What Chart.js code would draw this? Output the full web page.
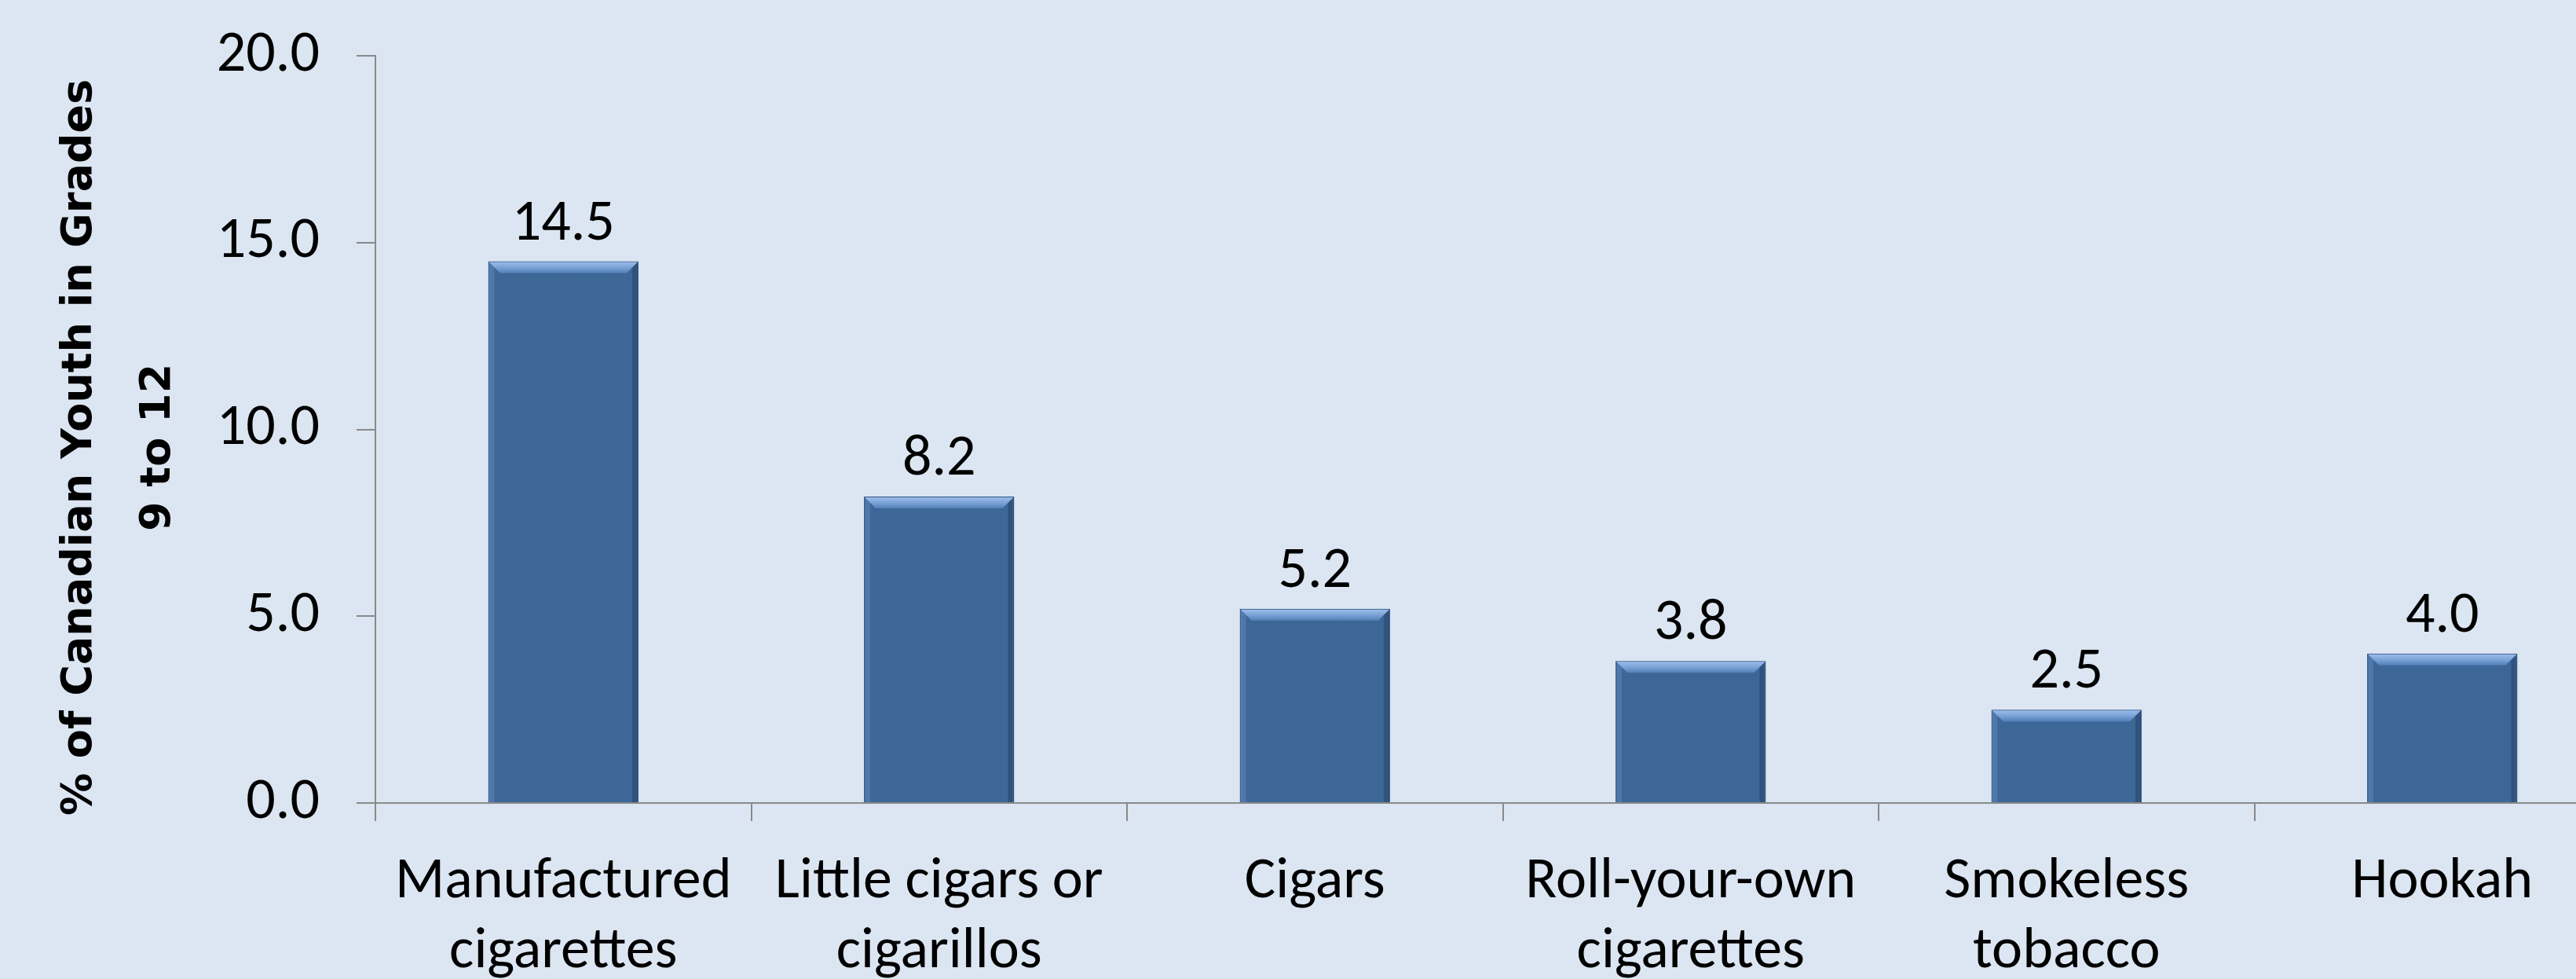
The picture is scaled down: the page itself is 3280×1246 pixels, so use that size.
<!DOCTYPE html>
<html>
<head>
<meta charset="utf-8">
<script src="https://cdn.jsdelivr.net/npm/chart.js@4.4.1/dist/chart.umd.min.js"></script>
<style>
    html, body { margin: 0; padding: 0; background: #dce6f2; overflow: hidden; }
    #wrap { width: 3349px; height: 1262px; }
</style>
</head>
<body>
<div id="wrap"><canvas id="chart" width="3349" height="1262"></canvas></div>
<script>
// Data
const categories = [
    ['Manufactured', 'cigarettes'],
    ['Little cigars or', 'cigarillos'],
    'Cigars',
    ['Roll-your-own', 'cigarettes'],
    ['Smokeless', 'tobacco'],
    'Hookah'
];
const percentUse = [14.5, 8.2, 5.2, 3.8, 2.5, 4.0];
const yTicks = [0, 5, 10, 15, 20];
// trailing spaces nudge the rotated title a little downward, as in the original
const yTitle = ['% of Canadian Youth in Grades \u2002', '9 to 12 \u2002'];

const bodyFont = "Carlito, 'Liberation Sans Narrow', Lato, sans-serif";
const axisGray = '#898989';

// Value labels above each bar
const valueLabels = {
    id: 'valueLabels',
    afterDatasetsDraw(chart) {
        const ctx = chart.ctx;
        const meta = chart.getDatasetMeta(0);
        ctx.save();
        ctx.font = '74px ' + bodyFont;
        ctx.fillStyle = '#000';
        ctx.textAlign = 'center';
        ctx.textBaseline = 'alphabetic';
        meta.data.forEach((bar, i) => {
            ctx.fillText(percentUse[i].toFixed(1), bar.x, bar.y - 28);
        });
        ctx.restore();
    }
};

// Office style bevel on the bar tops
const bevel = {
    id: 'bevel',
    afterDatasetsDraw(chart) {
        const ctx = chart.ctx;
        const meta = chart.getDatasetMeta(0);
        const b = 14;
        ctx.save();
        meta.data.forEach(bar => {
            const l = bar.x - bar.width / 2 + 1, r = bar.x + bar.width / 2 - 1;
            const t = bar.y + 1, bot = bar.base;
            // sides
            ctx.fillStyle = 'rgba(95,135,190,0.5)';
            ctx.beginPath();
            ctx.moveTo(l, t); ctx.lineTo(l + 7, t + 7); ctx.lineTo(l + 7, bot); ctx.lineTo(l, bot);
            ctx.closePath(); ctx.fill();
            ctx.fillStyle = 'rgba(30,55,90,0.4)';
            ctx.beginPath();
            ctx.moveTo(r, t); ctx.lineTo(r - 7, t + 7); ctx.lineTo(r - 7, bot); ctx.lineTo(r, bot);
            ctx.closePath(); ctx.fill();
            // top
            const g = ctx.createLinearGradient(0, t, 0, t + b);
            g.addColorStop(0, '#9abde9');
            g.addColorStop(0.5, '#7aa2d6');
            g.addColorStop(1, '#5380b9');
            ctx.fillStyle = g;
            ctx.beginPath();
            ctx.moveTo(l, t); ctx.lineTo(r, t); ctx.lineTo(r - b, t + b); ctx.lineTo(l + b, t + b);
            ctx.closePath(); ctx.fill();
        });
        ctx.restore();
    }
};

new Chart(document.getElementById('chart'), {
    type: 'bar',
    data: {
        labels: categories,
        datasets: [{
            data: percentUse,
            backgroundColor: '#3d6797',
            borderColor: '#2f5482',
            borderWidth: 2,
            barPercentage: 0.4,
            categoryPercentage: 1.0
        }]
    },
    options: {
        responsive: false,
        animation: false,
        devicePixelRatio: 1,
        layout: { padding: { top: 71, left: 0, right: 0, bottom: 0 } },
        plugins: {
            legend: { display: false },
            tooltip: { enabled: false }
        },
        scales: {
            x: {
                grid: {
                    offset: true,
                    drawOnChartArea: false,
                    drawTicks: true,
                    tickLength: 23,
                    color: axisGray,
                    lineWidth: 2
                },
                border: { display: true, color: axisGray, width: 2 },
                ticks: {
                    color: '#000',
                    padding: 34,
                    maxRotation: 0,
                    autoSkip: false,
                    font: { family: bodyFont, size: 74, lineHeight: 1.2 }
                },
                afterFit(scale) {
                    scale.height = 1262 - 1022;
                    scale.paddingLeft = 0;
                    scale.paddingRight = 0;
                }
            },
            y: {
                min: 0,
                max: 20,
                afterBuildTicks(scale) { scale.ticks = yTicks.map(v => ({ value: v })); },
                grid: {
                    drawOnChartArea: false,
                    drawTicks: true,
                    tickLength: 24,
                    color: axisGray,
                    lineWidth: 2
                },
                border: { display: true, color: axisGray, width: 2 },
                ticks: {
                    color: '#000',
                    padding: 47,
                    font: { family: bodyFont, size: 74 },
                    callback: v => Number(v).toFixed(1)
                },
                title: {
                    display: true,
                    text: yTitle,
                    color: '#000',
                    padding: { top: 52, bottom: 0 },
                    font: { family: "'DejaVu Sans'", weight: 'bold', size: 54, lineHeight: 1.85 }
                },
                afterFit(scale) {
                    scale.width = 478;
                    scale.paddingTop = 0;
                    scale.paddingBottom = 0;
                }
            }
        }
    },
    plugins: [bevel, valueLabels]
});
</script>
</body>
</html>
